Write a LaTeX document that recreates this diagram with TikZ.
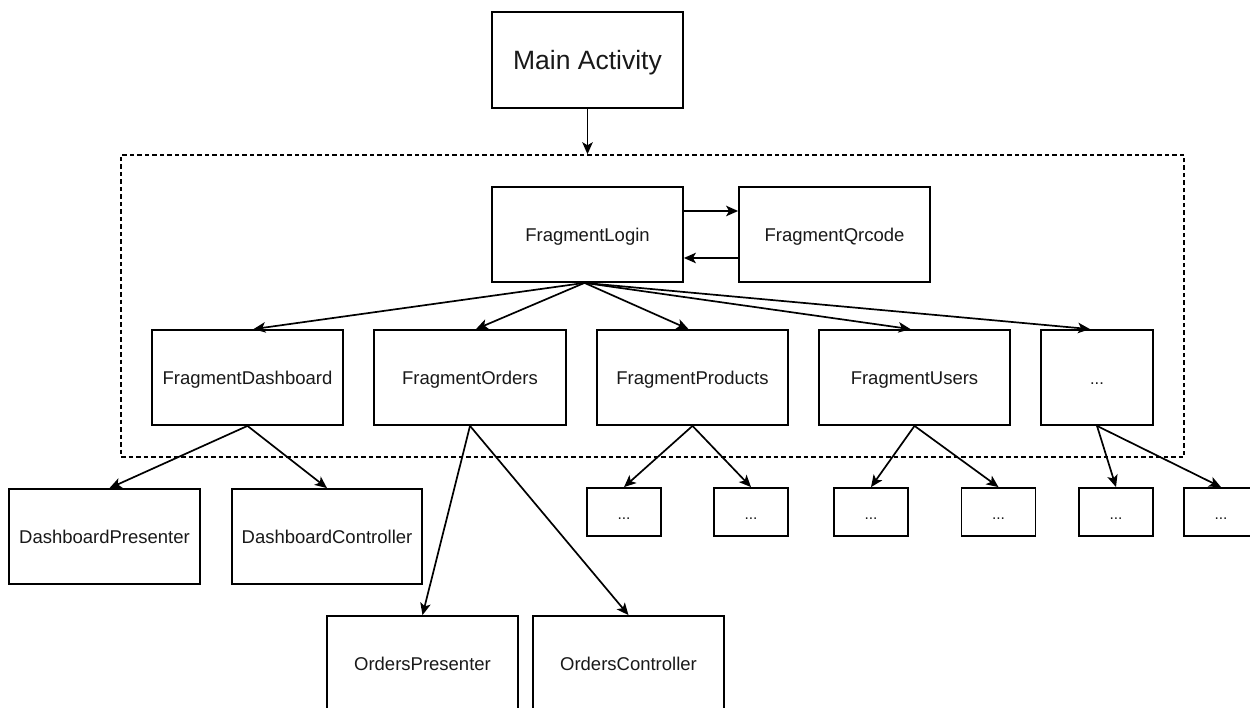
\documentclass[tikz,border=0pt]{standalone}
\usepackage{fontspec}
\setmainfont{Liberation Sans}
\usetikzlibrary{arrows.meta,calc}
\tikzset{
  box/.style={draw=black, line width=1.8pt, fill=white, inner sep=0pt, align=center,
    text=black!90, font=\fontsize{18.5}{22}\selectfont, text height=13.5pt, text depth=0pt},
  bigbox/.style={box, minimum width=191pt, minimum height=95pt},
  smallbox/.style={box, minimum width=74pt, minimum height=48pt, font=\fontsize{15.5}{18}\selectfont,
    text height=15pt},
  group/.style={draw=black, line width=1.5pt, dash pattern=on 4.5pt off 3pt, inner sep=0pt,
    minimum width=1063pt, minimum height=302pt},
  conn/.style={draw=black, line width=1.7pt, -{Stealth[length=12pt,width=10.5pt,inset=3pt]}}
}
\begin{document}
\begin{tikzpicture}[x=1pt,y=-1pt]
\useasboundingbox (0,0) rectangle (1250,708);
\clip (0,0) rectangle (1250,708);
\fill[white] (0,0) rectangle (1250,708);

\node[group] (grp) at (652.5,306) {};

\node[bigbox, minimum height=96pt, font=\fontsize{26.5}{30}\selectfont, text height=20pt] (main) at (587.5,60) {Main Activity};
\node[bigbox] (login) at (587.5,234.5) {FragmentLogin};
\node[bigbox] (qr) at (834.5,234.5) {FragmentQrcode};

\node[bigbox] (dash) at (247.5,377.5) {FragmentDashboard};
\node[bigbox, minimum width=192pt] (orders) at (470,377.5) {FragmentOrders};
\node[bigbox] (products) at (692.5,377.5) {FragmentProducts};
\node[bigbox] (users) at (914.5,377.5) {FragmentUsers};
\node[bigbox, minimum width=112pt, font=\fontsize{16.5}{20}\selectfont, text height=14pt] (more) at (1097,377.5) {...};

\node[bigbox] (dp) at (104.5,536.5) {DashboardPresenter};
\node[bigbox, minimum width=190pt] (dc) at (327,536.5) {DashboardController};
\node[bigbox] (op) at (422.5,663.5) {OrdersPresenter};
\node[bigbox] (oc) at (628.5,663.5) {OrdersController};

\node[smallbox] (p1) at (624,512) {...};
\node[smallbox] (p2) at (751,512) {...};
\node[smallbox] (u1) at (871,512) {...};
\node[smallbox] (u2) at (998.5,512) {...};
\node[smallbox] (m1) at (1116,512) {...};
\node[smallbox] (m2) at (1221,512) {...};

\draw[conn] (main.south) -- (main.south |- grp.north);
\draw[conn] ([yshift=23.5pt]login.east) -- ([yshift=23.5pt]qr.west);
\draw[conn] ([yshift=-23.5pt]qr.west) -- ([yshift=-23.5pt]login.east);

\coordinate (lo) at ([xshift=-3pt]login.south);
\draw[conn] (lo) -- ([xshift=6pt]dash.north);
\draw[conn] (lo) -- ([xshift=6pt]orders.north);
\draw[conn] (lo) -- ([xshift=-4pt]products.north);
\draw[conn] (lo) -- ([xshift=-4pt]users.north);
\draw[conn] (lo) -- ([xshift=-7pt]more.north);

\draw[conn] (dash.south) -- ([xshift=5pt]dp.north);
\draw[conn] (dash.south) -- (dc.north);
\draw[conn] (orders.south) -- (op.north);
\draw[conn] (orders.south) -- (oc.north);
\draw[conn] (products.south) -- (p1.north);
\draw[conn] (products.south) -- (p2.north);
\draw[conn] (users.south) -- (u1.north);
\draw[conn] (users.south) -- (u2.north);
\draw[conn] (more.south) -- (m1.north);
\draw[conn] (more.south) -- (m2.north);
\end{tikzpicture}
\end{document}
